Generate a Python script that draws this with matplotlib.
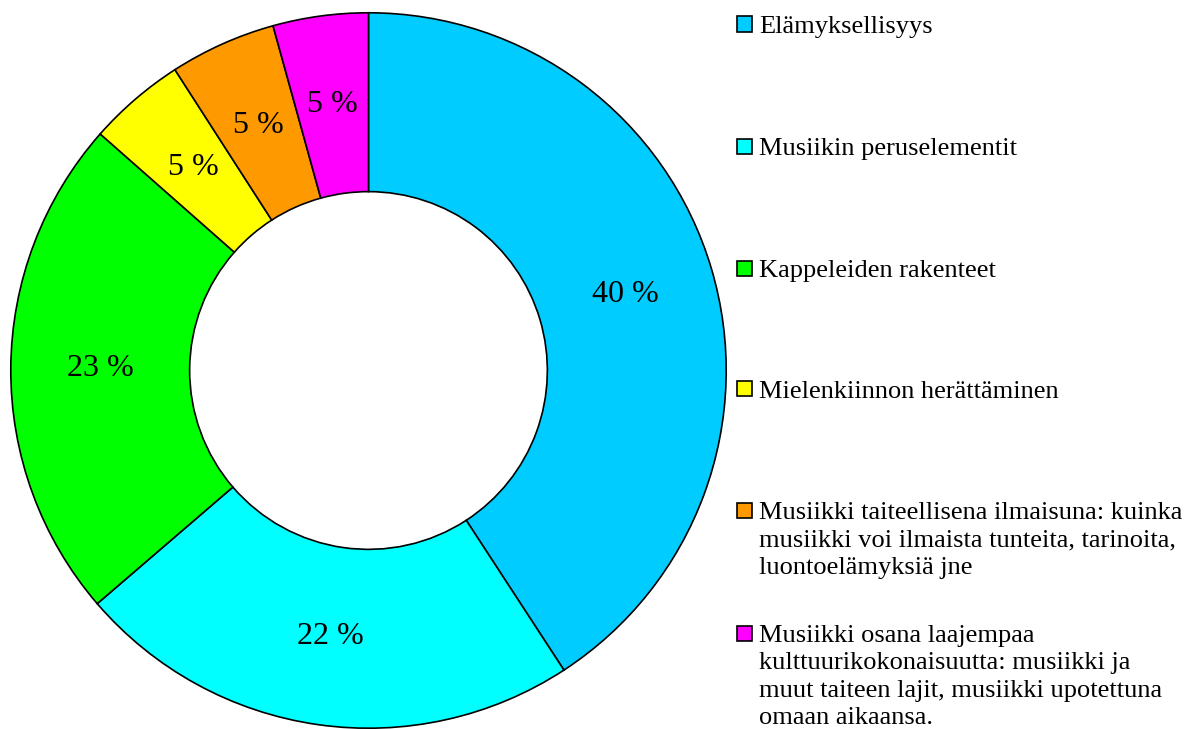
import matplotlib
matplotlib.use('Agg')
from matplotlib import pyplot as plt
from matplotlib.patches import Rectangle

shares = [40.8, 22.9, 22.8, 4.4, 4.8, 4.3]
pct_labels = ['40 %', '22 %', '23 %', '5 %', '5 %', '5 %']
categories = [
    'Elämyksellisyys',
    'Musiikin peruselementit',
    'Kappeleiden rakenteet',
    'Mielenkiinnon herättäminen',
    'Musiikki taiteellisena ilmaisuna: kuinka\nmusiikki voi ilmaista tunteita, tarinoita,\nluontoelämyksiä jne',
    'Musiikki osana laajempaa\nkulttuurikokonaisuutta: musiikki ja\nmuut taiteen lajit, musiikki upotettuna\nomaan aikaansa.',
]
colors = ['#00ccff', '#00ffff', '#00ff00', '#ffff00', '#ff9900', '#ff00ff']

plt.rcParams['font.family'] = ['Liberation Serif', 'DejaVu Serif']

W, H = 1191, 729
fig = plt.figure(figsize=(W / 100.0, H / 100.0), dpi=100)

# donut: centre ~ (368.5, 370.5) px, outer radius ~ 359.5 px
cx, cy, r = 368.5, 370.5, 359.5
ax = fig.add_axes([(cx - r) / W, (H - cy - r) / H, 2 * r / W, 2 * r / H])
wedges, texts = ax.pie(shares, colors=colors, startangle=90, counterclock=False,
                       radius=1.0, labels=pct_labels, labeldistance=0.75,
                       wedgeprops={'width': 0.5, 'edgecolor': 'black', 'linewidth': 1.2})
for t in texts:
    t.set_ha('center')
    t.set_va('center')
    t.set_fontsize(23)
ax.set_xlim(-1.005, 1.005)
ax.set_ylim(-1.005, 1.005)
ax.set_aspect('equal')
ax.axis('off')

# legend built by hand so that the box lines up with the first text line
first_line_y = [24, 146, 268, 389, 510, 633]
for i, (name, col) in enumerate(zip(categories, colors)):
    yc = first_line_y[i]
    fig.patches.append(Rectangle((737.0 / W, 1 - (yc + 7.5) / H), 15.0 / W, 15.0 / H,
                                 transform=fig.transFigure, facecolor=col,
                                 edgecolor='black', linewidth=1.2))
    fig.text(759.0 / W, 1 - (yc - 8) / H, name, ha='left', va='top',
             fontsize=19, linespacing=1.32)

fig.savefig('out.png', dpi=100)
